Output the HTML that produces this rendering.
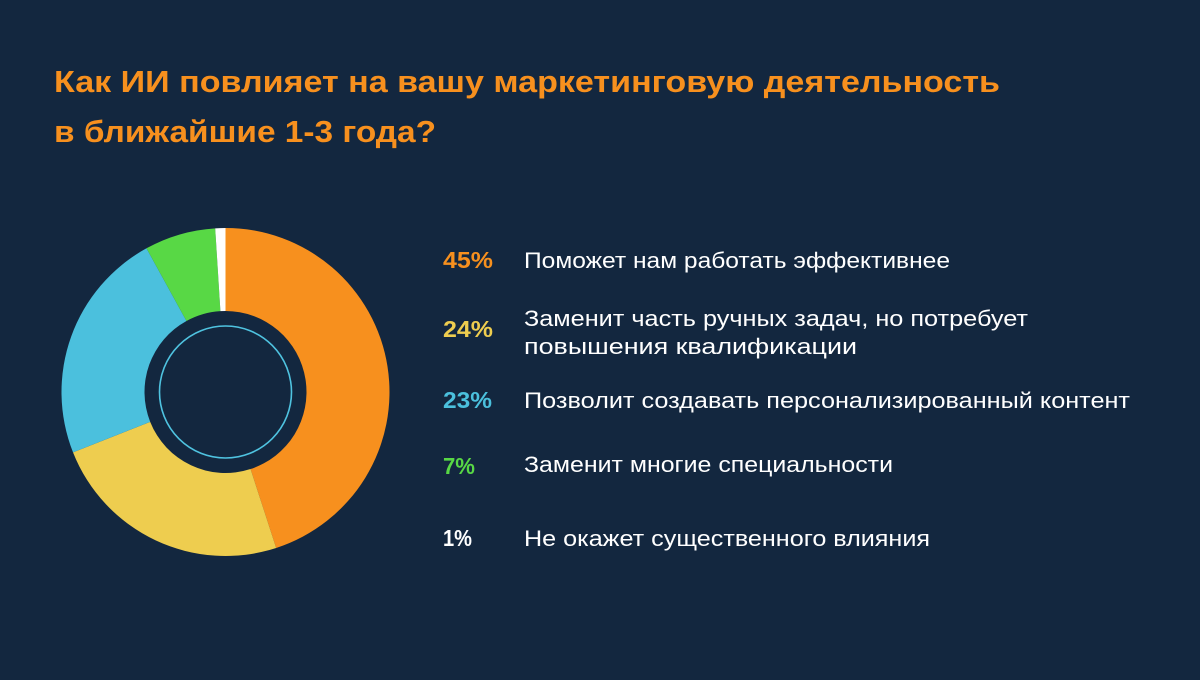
<!DOCTYPE html>
<html><head><meta charset="utf-8">
<style>
html,body{margin:0;padding:0;background:#13273f;}
svg{display:block;}
text{font-family:"Liberation Sans",sans-serif;}
</style></head>
<body>
<svg width="1200" height="680" viewBox="0 0 1200 680">
<rect width="1200" height="680" fill="#13273f"/>
<text x="54" y="92" font-size="31" font-weight="bold" fill="#f7901e" textLength="946" lengthAdjust="spacingAndGlyphs">Как ИИ повлияет на вашу маркетинговую деятельность</text>
<text x="54" y="142" font-size="31" font-weight="bold" fill="#f7901e" textLength="382" lengthAdjust="spacingAndGlyphs">в ближайшие 1-3 года?</text>
<g id="donut"></g>
<circle cx="225.5" cy="392" r="66" fill="none" stroke="#4fc3e0" stroke-width="1.6"/>
<g id="legend"></g>
</svg>
<script>
const categories=["Поможет нам работать эффективнее","Заменит часть ручных задач, но потребует повышения квалификации","Позволит создавать персонализированный контент","Заменит многие специальности","Не окажет существенного влияния"];
const values=[45,24,23,7,1];
const percentLabels=["45%","24%","23%","7%","1%"];
const colors=["#f7901e","#eecd4f","#4bc0dd","#58d845","#ffffff"];
const NS="http://www.w3.org/2000/svg";
const cx=225.5,cy=392,R=164,r=81;
const total=values.reduce((a,b)=>a+b,0);
function pt(a,rad){return [cx+rad*Math.sin(a),cy-rad*Math.cos(a)];}
const donut=document.getElementById('donut');
let acc=0;
values.forEach((v,i)=>{
  const a0=acc/total*2*Math.PI; acc+=v; const a1=acc/total*2*Math.PI;
  const large=(a1-a0)>Math.PI?1:0;
  const p0=pt(a0,R),p1=pt(a1,R),q1=pt(a1,r),q0=pt(a0,r);
  const p=document.createElementNS(NS,'path');
  p.setAttribute('d',`M${p0} A${R},${R} 0 ${large} 1 ${p1} L${q1} A${r},${r} 0 ${large} 0 ${q0} Z`);
  p.setAttribute('fill',colors[i]);
  
  
  donut.appendChild(p);
});
const legend=document.getElementById('legend');
const rows=[
 {py:268,lines:[[categories[0],268,426]]},
 {py:337,lines:[["Заменит часть ручных задач, но потребует",326,504],["повышения квалификации",354,333]]},
 {py:408,lines:[[categories[2],408,606]]},
 {py:474,lines:[[categories[3],472,369]]},
 {py:546,lines:[[categories[4],546,406]]}];
const pw=[50,50,49,32,29];
rows.forEach((row,i)=>{
  const t=document.createElementNS(NS,'text');
  t.setAttribute('x',443);t.setAttribute('y',row.py);
  t.setAttribute('font-size','23');t.setAttribute('font-weight','bold');
  t.setAttribute('fill',colors[i]);
  t.setAttribute('textLength',pw[i]);t.setAttribute('lengthAdjust','spacingAndGlyphs');
  t.textContent=percentLabels[i];
  
  
  legend.appendChild(t);
  row.lines.forEach(l=>{
    const s=document.createElementNS(NS,'text');
    s.setAttribute('x',524);s.setAttribute('y',l[1]);
    s.setAttribute('font-size','22');s.setAttribute('fill','#ffffff');
    s.setAttribute('textLength',l[2]);s.setAttribute('lengthAdjust','spacingAndGlyphs');
    s.textContent=l[0];
    
    
    legend.appendChild(s);
  });
});
</script>
</body></html>
